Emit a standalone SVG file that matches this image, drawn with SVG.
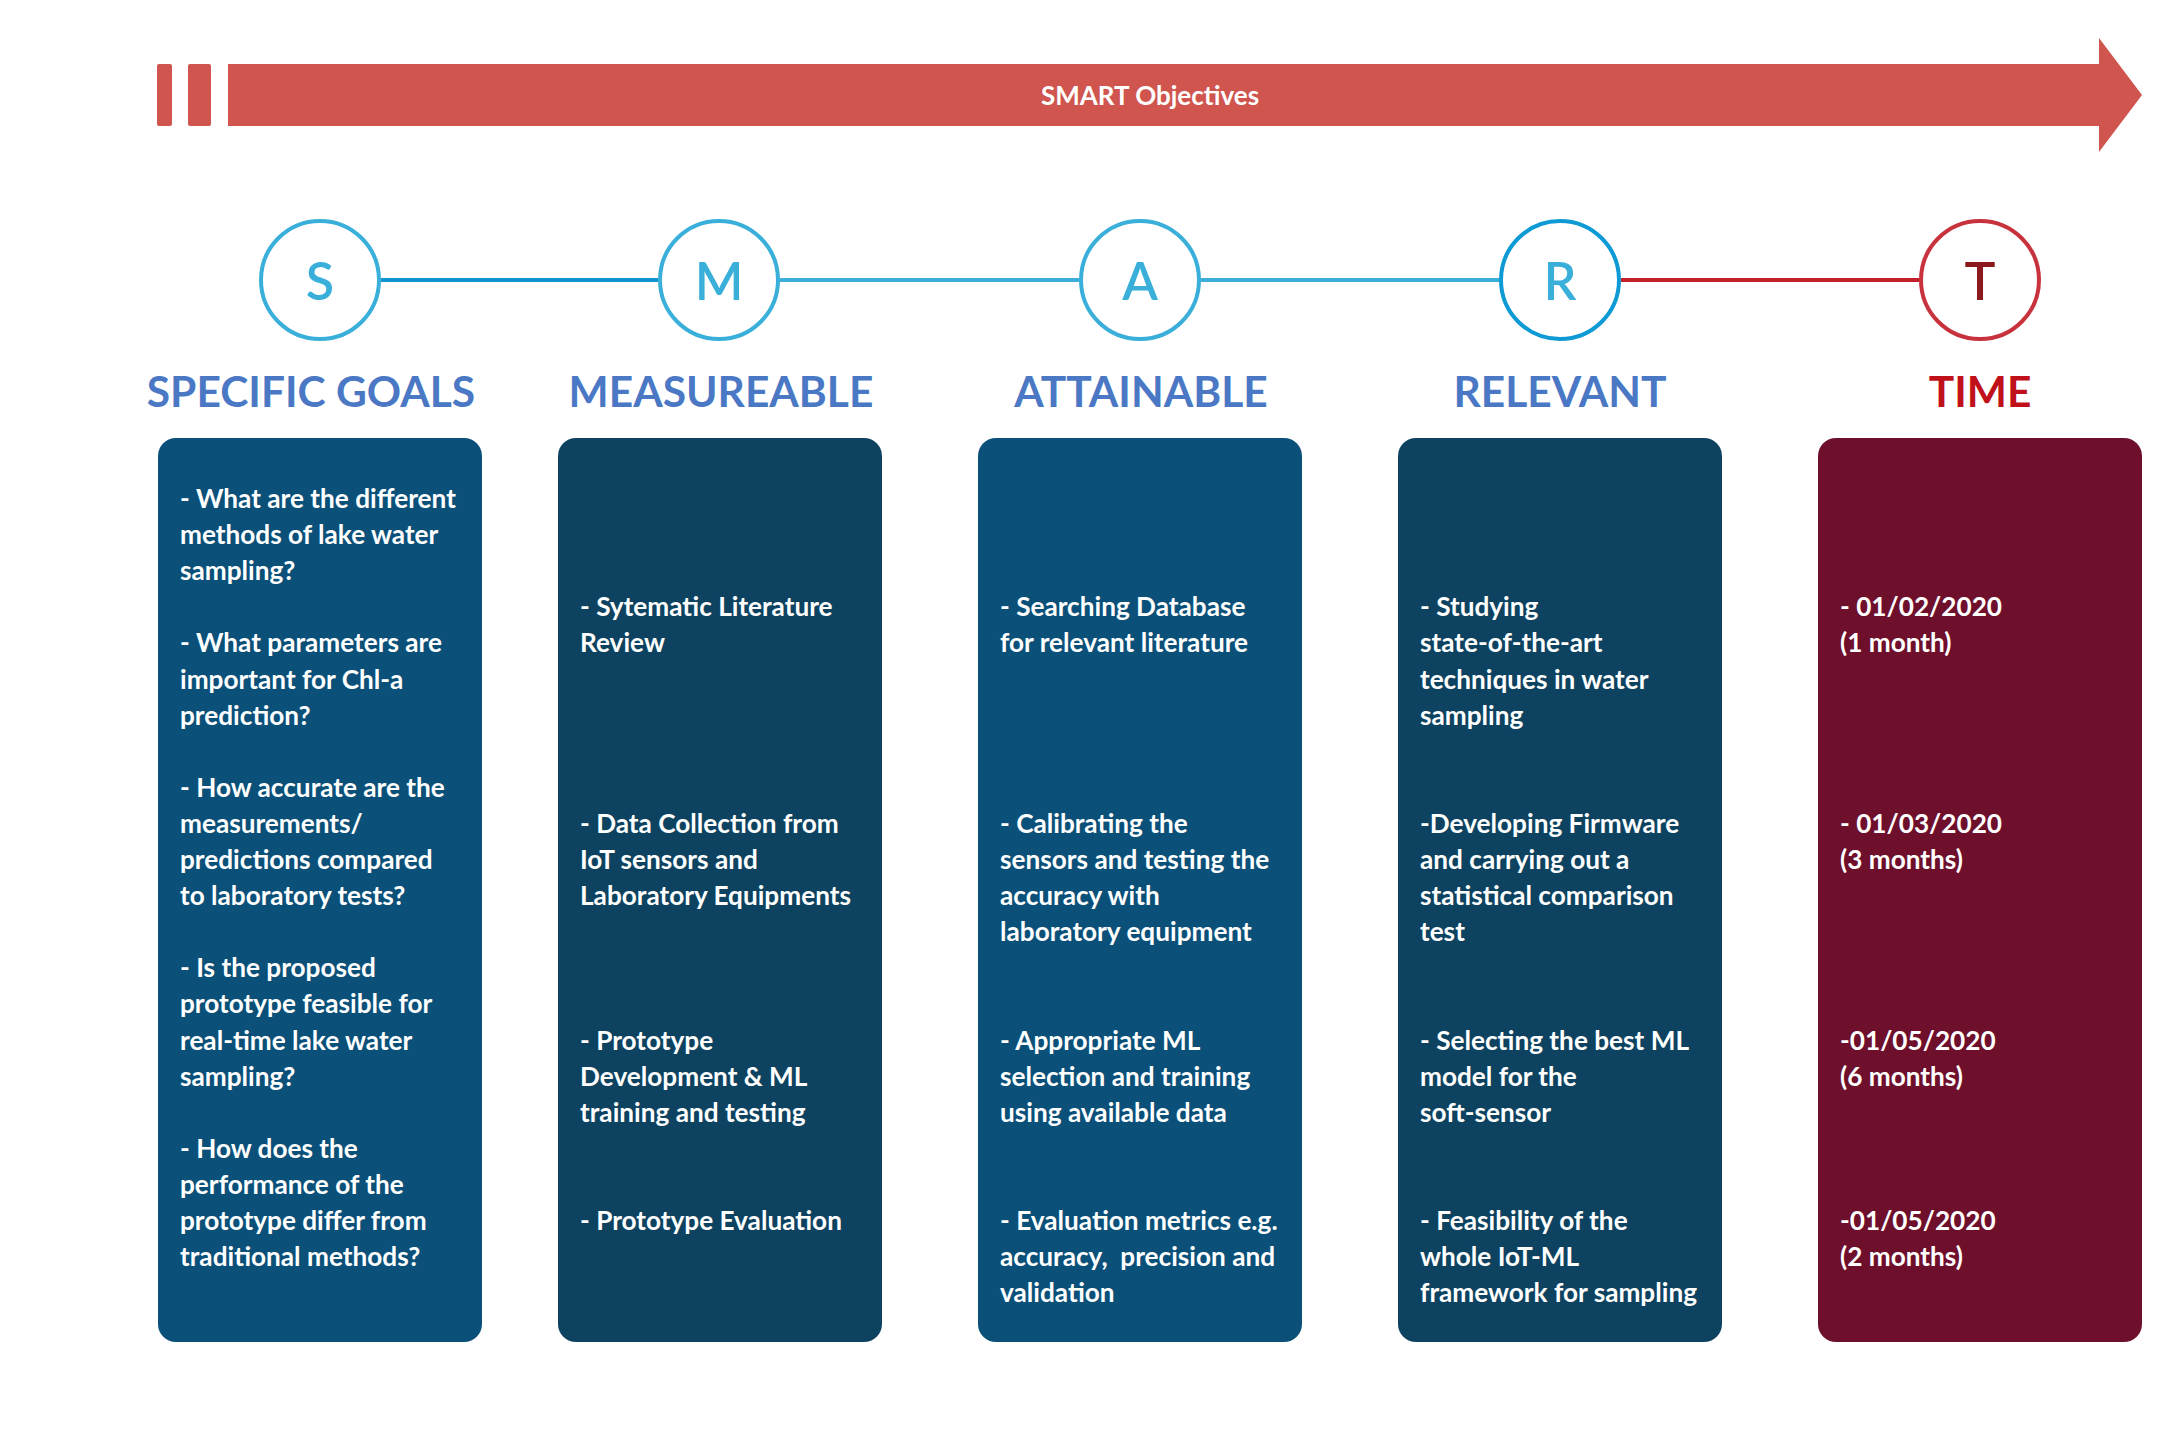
<svg xmlns="http://www.w3.org/2000/svg" width="2180" height="1440" viewBox="0 0 2180 1440">
<style>
.bar{fill:#cf554e}
.circ{fill:#ffffff;stroke-width:4}
.letter{font-family:Lato,"Liberation Sans",sans-serif;font-size:52px;font-weight:600;text-anchor:middle}
.head{font-family:Lato,"Liberation Sans",sans-serif;font-size:42.5px;font-weight:700;text-anchor:middle;fill:#4a78c4}
.body{font-family:Lato,"Liberation Sans",sans-serif;font-size:26.2px;font-weight:700;fill:#ffffff}
.link{stroke-width:4;fill:none}
</style>
<rect width="2180" height="1440" fill="#ffffff"/>
<g id="banner">
<rect class="bar" x="157" y="64" width="15" height="62" rx="2"/>
<rect class="bar" x="188" y="64" width="23" height="62" rx="2"/>
<polygon class="bar" points="228,64 2099,64 2099,38 2142,95 2099,152 2099,126 228,126"/>
<text x="1150" y="105" font-family="Lato, 'Liberation Sans', sans-serif" font-size="26" font-weight="700" fill="#ffffff" text-anchor="middle">SMART Objectives</text>
</g>
<g id="connectors">
<line class="link" x1="381" y1="280" x2="658" y2="280" stroke="#0d93cd"/>
<line class="link" x1="780" y1="280" x2="1079" y2="280" stroke="#3aafda"/>
<line class="link" x1="1201" y1="280" x2="1499" y2="280" stroke="#3aafda"/>
<line class="link" x1="1621" y1="280" x2="1919" y2="280" stroke="#c4202b"/>
</g>
<g id="node-S">
<circle class="circ" cx="320" cy="280" r="59" stroke="#3aafda"/>
<text class="letter" x="320" y="300" fill="#3aafda">S</text>
<text class="head" x="311" y="407">SPECIFIC GOALS</text>
<rect x="158" y="438" width="324" height="904" rx="18" fill="#0a5079"/>
<text class="body">
<tspan x="180" y="508">- What are the different</tspan>
<tspan x="180" y="544.1">methods of lake water</tspan>
<tspan x="180" y="580.2">sampling?</tspan>
<tspan x="180" y="652.4">- What parameters are</tspan>
<tspan x="180" y="688.5">important for Chl-a</tspan>
<tspan x="180" y="724.6">prediction?</tspan>
<tspan x="180" y="796.8">- How accurate are the</tspan>
<tspan x="180" y="832.9">measurements/</tspan>
<tspan x="180" y="869">predictions compared</tspan>
<tspan x="180" y="905.1">to laboratory tests?</tspan>
<tspan x="180" y="977.3">- Is the proposed</tspan>
<tspan x="180" y="1013.4">prototype feasible for</tspan>
<tspan x="180" y="1049.5">real-time lake water</tspan>
<tspan x="180" y="1085.6">sampling?</tspan>
<tspan x="180" y="1157.8">- How does the</tspan>
<tspan x="180" y="1193.9">performance of the</tspan>
<tspan x="180" y="1230">prototype differ from</tspan>
<tspan x="180" y="1266.1">traditional methods?</tspan>
</text>
</g>
<g id="node-M">
<circle class="circ" cx="719" cy="280" r="59" stroke="#3aafda"/>
<text class="letter" x="719" y="300" fill="#3aafda">M</text>
<text class="head" x="721" y="407">MEASUREABLE</text>
<rect x="558" y="438" width="324" height="904" rx="18" fill="#0d4360"/>
<text class="body">
<tspan x="580" y="616.3">- Sytematic Literature</tspan>
<tspan x="580" y="652.4">Review</tspan>
<tspan x="580" y="832.9">- Data Collection from</tspan>
<tspan x="580" y="869">IoT sensors and</tspan>
<tspan x="580" y="905.1">Laboratory Equipments</tspan>
<tspan x="580" y="1049.5">- Prototype</tspan>
<tspan x="580" y="1085.6">Development &amp; ML</tspan>
<tspan x="580" y="1121.7">training and testing</tspan>
<tspan x="580" y="1230">- Prototype Evaluation</tspan>
</text>
</g>
<g id="node-A">
<circle class="circ" cx="1140" cy="280" r="59" stroke="#3aafda"/>
<text class="letter" x="1140" y="300" fill="#3aafda">A</text>
<text class="head" x="1141" y="407">ATTAINABLE</text>
<rect x="978" y="438" width="324" height="904" rx="18" fill="#0a5079"/>
<text class="body">
<tspan x="1000" y="616.3">- Searching Database</tspan>
<tspan x="1000" y="652.4">for relevant literature</tspan>
<tspan x="1000" y="832.9">- Calibrating the</tspan>
<tspan x="1000" y="869">sensors and testing the</tspan>
<tspan x="1000" y="905.1">accuracy with</tspan>
<tspan x="1000" y="941.2">laboratory equipment</tspan>
<tspan x="1000" y="1049.5">- Appropriate ML</tspan>
<tspan x="1000" y="1085.6">selection and training</tspan>
<tspan x="1000" y="1121.7">using available data</tspan>
<tspan x="1000" y="1230">- Evaluation metrics e.g.</tspan>
<tspan x="1000" y="1266.1">accuracy,&#160; precision and</tspan>
<tspan x="1000" y="1302.2">validation</tspan>
</text>
</g>
<g id="node-R">
<circle class="circ" cx="1560" cy="280" r="59" stroke="#0e9ad4"/>
<text class="letter" x="1560" y="300" fill="#3aafda">R</text>
<text class="head" x="1560" y="407">RELEVANT</text>
<rect x="1398" y="438" width="324" height="904" rx="18" fill="#0d4360"/>
<text class="body">
<tspan x="1420" y="616.3">- Studying</tspan>
<tspan x="1420" y="652.4">state-of-the-art</tspan>
<tspan x="1420" y="688.5">techniques in water</tspan>
<tspan x="1420" y="724.6">sampling</tspan>
<tspan x="1420" y="832.9">-Developing Firmware</tspan>
<tspan x="1420" y="869">and carrying out a</tspan>
<tspan x="1420" y="905.1">statistical comparison</tspan>
<tspan x="1420" y="941.2">test</tspan>
<tspan x="1420" y="1049.5">- Selecting the best ML</tspan>
<tspan x="1420" y="1085.6">model for the</tspan>
<tspan x="1420" y="1121.7">soft-sensor</tspan>
<tspan x="1420" y="1230">- Feasibility of the</tspan>
<tspan x="1420" y="1266.1">whole IoT-ML</tspan>
<tspan x="1420" y="1302.2">framework for sampling</tspan>
</text>
</g>
<g id="node-T">
<circle class="circ" cx="1980" cy="280" r="59" stroke="#c8323c"/>
<text class="letter" x="1980" y="300" fill="#8b1a1e">T</text>
<text class="head" x="1980" y="407" style="fill:#c0101a">TIME</text>
<rect x="1818" y="438" width="324" height="904" rx="18" fill="#6e0f2c"/>
<text class="body">
<tspan x="1840" y="616.3">- 01/02/2020</tspan>
<tspan x="1840" y="652.4">(1 month)</tspan>
<tspan x="1840" y="832.9">- 01/03/2020</tspan>
<tspan x="1840" y="869">(3 months)</tspan>
<tspan x="1840" y="1049.5">-01/05/2020</tspan>
<tspan x="1840" y="1085.6">(6 months)</tspan>
<tspan x="1840" y="1230">-01/05/2020</tspan>
<tspan x="1840" y="1266.1">(2 months)</tspan>
</text>
</g>
</svg>
